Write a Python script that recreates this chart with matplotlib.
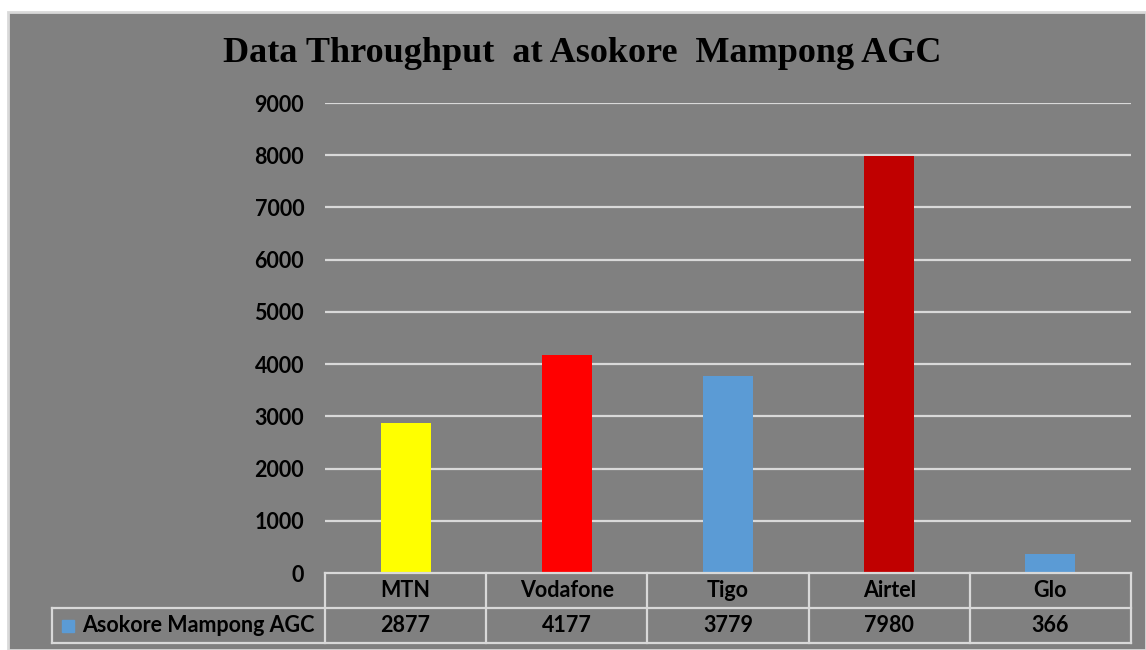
import matplotlib
matplotlib.use('Agg')
import matplotlib.pyplot as plt
from matplotlib.patches import Rectangle
import matplotlib.transforms as mtransforms

# --- data ---
categories = ['MTN', 'Vodafone', 'Tigo', 'Airtel', 'Glo']
values = [2877, 4177, 3779, 7980, 366]
bar_colors = ['#FFFF00', '#FF0000', '#5B9BD5', '#C00000', '#5B9BD5']
series_name = 'Asokore Mampong AGC'
yticks = [0, 1000, 2000, 3000, 4000, 5000, 6000, 7000, 8000, 9000]
title = 'Data Throughput  at Asokore  Mampong AGC'

BG = '#808080'
LINE = '#D9D9D9'
FONT = 'Lato'
FS = 15.5

fig = plt.figure(figsize=(11.46, 6.5), dpi=100)
fig.patch.set_facecolor('white')

# gray chart area with light border
panel = Rectangle((8 / 1146, 0), 1 - 8 / 1146, (650 - 12) / 650,
                  transform=fig.transFigure, facecolor=BG,
                  edgecolor=LINE, linewidth=2, zorder=-5)
fig.patches.append(panel)

ax = fig.add_axes([325 / 1146, 77 / 650, 806 / 1146, 470 / 650])
ax.set_facecolor('none')
ax.set_zorder(2)

x = list(range(len(categories)))
ax.bar(x, values, width=0.31, color=bar_colors, zorder=3)

ax.set_xlim(-0.5, len(categories) - 0.5)
ax.set_ylim(0, 9000)
ax.set_yticks(yticks)
ax.set_yticklabels([str(t) for t in yticks], fontfamily=FONT,
                   fontweight='bold', fontsize=FS)
ax.tick_params(axis='y', length=0, pad=15)
ax.tick_params(axis='x', length=0, labelbottom=False)
for s in ax.spines.values():
    s.set_visible(False)
for t in yticks[1:]:
    ax.axhline(t, color=LINE, linewidth=1.6, zorder=1)

# --- data table under the axis ---
trans = mtransforms.blended_transform_factory(ax.transData, ax.transAxes)
row_h = 35 / 470
left_edge = -0.5 - (325 - 52) / 161
right_edge = len(categories) - 0.5
lkw = dict(color=LINE, linewidth=1.6, transform=trans, clip_on=False, zorder=4)

# horizontal lines
ax.plot([-0.5, right_edge], [0, 0], **lkw)
ax.plot([left_edge, right_edge], [-row_h, -row_h], **lkw)
ax.plot([left_edge, right_edge], [-2 * row_h, -2 * row_h], **lkw)
# vertical lines
ax.plot([left_edge, left_edge], [-row_h, -2 * row_h], **lkw)
for i in range(len(categories) + 1):
    ax.plot([i - 0.5, i - 0.5], [0, -2 * row_h], **lkw)

txt = dict(transform=trans, fontfamily=FONT, fontweight='bold', fontsize=FS,
           ha='center', va='center', clip_on=False)
for i, (c, v) in enumerate(zip(categories, values)):
    ax.text(i, -row_h / 2, c, **txt)
    ax.text(i, -1.5 * row_h, str(v), **txt)

ax.plot([left_edge + (68 - 52) / 161], [-1.5 * row_h], marker='s',
        markersize=9, color='#5B9BD5', transform=trans, clip_on=False)
ax.text(-0.5 - (325 - 82) / 161, -1.5 * row_h, series_name,
        transform=trans, fontfamily=FONT, fontweight='bold', fontsize=FS,
        ha='left', va='center', clip_on=False)

fig.text(582 / 1146, 1 - 54 / 650, title, fontfamily='Liberation Serif',
         fontweight='bold', fontsize=26, ha='center', va='center')

fig.savefig('out.png', dpi=100)
